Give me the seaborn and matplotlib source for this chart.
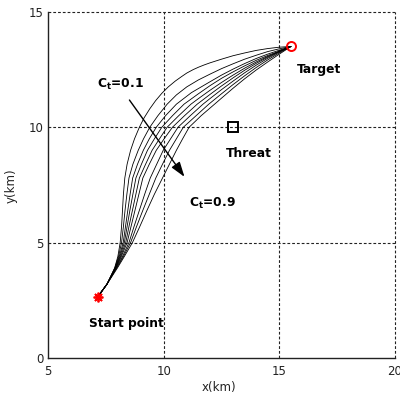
import matplotlib
matplotlib.use("Agg")
import matplotlib.pyplot as plt
import seaborn as sns
import pandas as pd

# ---- data ----
ct_labels = [0.1, 0.2, 0.3, 0.4, 0.5, 0.6, 0.7, 0.8, 0.9]

# common start of every path
start_x = [7.15, 7.55]
start_y = [2.65, 3.2]

# lower part: x positions read at these heights
low_levels_y = [3.9, 4.4, 5.0, 5.7, 6.4, 7.1, 7.8, 8.4, 9.0, 9.5, 10.0]
low_x = [
    [7.88, 8.02, 8.12, 8.18, 8.22, 8.26, 8.32, 8.42, 8.57, 8.74, 8.95],
    [7.89, 8.05, 8.18, 8.26, 8.33, 8.41, 8.50, 8.67, 8.90, 9.13, 9.40],
    [7.90, 8.08, 8.25, 8.35, 8.45, 8.55, 8.66, 8.87, 9.12, 9.38, 9.68],
    [7.91, 8.11, 8.30, 8.42, 8.54, 8.67, 8.80, 9.04, 9.30, 9.60, 9.92],
    [7.92, 8.14, 8.36, 8.50, 8.65, 8.80, 8.95, 9.22, 9.50, 9.82, 10.15],
    [7.93, 8.17, 8.42, 8.59, 8.76, 8.93, 9.10, 9.38, 9.68, 10.02, 10.38],
    [7.95, 8.22, 8.50, 8.72, 8.95, 9.18, 9.42, 9.70, 9.98, 10.30, 10.62],
    [7.97, 8.26, 8.57, 8.83, 9.10, 9.38, 9.66, 9.95, 10.25, 10.55, 10.85],
    [8.00, 8.30, 8.65, 8.97, 9.28, 9.60, 9.95, 10.25, 10.55, 10.82, 11.10],
]

# upper part: points read along each path up to the target
up_x = [
    [9.15, 9.4, 9.65, 9.92, 10.2, 10.5, 10.78, 11.0, 11.28, 11.5, 11.75, 12.0, 12.5, 13.0, 13.5, 14.0, 14.5, 15.0, 15.5],
    [9.75, 10.15, 10.55, 11.0, 11.5, 12.0, 12.5, 13.0, 13.5, 14.0, 14.5, 15.0, 15.5],
    [10.08, 10.55, 11.2, 12.0, 12.5, 13.0, 13.5, 14.0, 14.5, 15.0, 15.5],
    [10.38, 10.88, 11.5, 12.0, 12.5, 13.0, 13.5, 14.0, 14.5, 15.0, 15.5],
    [10.65, 11.18, 11.5, 12.0, 12.5, 13.0, 13.5, 14.0, 14.5, 15.0, 15.5],
    [10.9, 11.45, 12.0, 12.5, 13.0, 13.5, 14.0, 14.5, 15.0, 15.5],
    [11.15, 11.7, 12.0, 12.5, 13.0, 13.5, 14.0, 14.5, 15.0, 15.5],
    [11.4, 11.95, 12.5, 13.0, 13.5, 14.0, 14.5, 15.0, 15.5],
    [11.62, 12.2, 12.5, 13.0, 13.5, 14.0, 14.5, 15.0, 15.5],
]
up_y = [
    [10.4, 10.8, 11.15, 11.47, 11.75, 12.0, 12.2, 12.35, 12.5, 12.6, 12.7, 12.79, 12.95, 13.1, 13.22, 13.33, 13.41, 13.47, 13.5],
    [10.5, 11.0, 11.4, 11.75, 12.05, 12.3, 12.54, 12.75, 12.95, 13.12, 13.28, 13.4, 13.5],
    [10.5, 11.0, 11.5, 11.97, 12.26, 12.52, 12.76, 12.98, 13.17, 13.34, 13.5],
    [10.5, 11.0, 11.45, 11.8, 12.12, 12.4, 12.66, 12.9, 13.11, 13.3, 13.5],
    [10.5, 11.0, 11.24, 11.6, 11.94, 12.26, 12.56, 12.83, 13.07, 13.29, 13.5],
    [10.5, 11.0, 11.42, 11.79, 12.14, 12.47, 12.77, 13.04, 13.28, 13.5],
    [10.5, 11.0, 11.24, 11.63, 12.0, 12.36, 12.69, 12.99, 13.26, 13.5],
    [10.5, 11.0, 11.45, 11.85, 12.23, 12.59, 12.92, 13.22, 13.5],
    [10.5, 11.0, 11.26, 11.69, 12.1, 12.48, 12.83, 13.17, 13.5],
]

start_pt = (7.15, 2.65)
target_pt = (15.5, 13.5)
threat_pt = (13.0, 10.0)

x_ticks = [5, 10, 15, 20]
y_ticks = [0, 5, 10, 15]

# ---- build long table ----
rows = []
for i, ct in enumerate(ct_labels):
    xs = start_x + low_x[i] + up_x[i]
    ys = start_y + low_levels_y + up_y[i]
    for order, (xv, yv) in enumerate(zip(xs, ys)):
        rows.append({"ct": ct, "order": order, "x": xv, "y": yv})
df = pd.DataFrame(rows)

sns.set_theme(style="white")
plt.rcParams["font.family"] = ["DejaVu Sans"]
plt.rcParams["mathtext.fontset"] = "dejavusans"
plt.rcParams["text.color"] = "black"

fig = plt.figure(figsize=(4.0, 3.96), dpi=100)
ax = fig.add_axes([0.12, 0.096, 0.8675, 0.874])

# grid (dashed), including the top/right edges
for xv in x_ticks[1:]:
    ax.axvline(xv, color="#222222", lw=0.8, linestyle=(0, (2.5, 1.8)), zorder=1, clip_on=False)
for yv in y_ticks[1:]:
    ax.axhline(yv, color="#222222", lw=0.8, linestyle=(0, (2.5, 1.8)), zorder=1, clip_on=False)

sns.lineplot(data=df, x="x", y="y", units="ct", estimator=None, sort=False,
             color="black", lw=0.6, ax=ax, legend=False, zorder=3)

ax.plot([start_pt[0]], [start_pt[1]], marker=(8, 2, 0), color="red", ms=7, mew=1.3, zorder=5)
ax.plot([target_pt[0]], [target_pt[1]], marker="o", mfc="none", mec="red", ms=6.5, mew=1.4, zorder=5)
ax.plot([threat_pt[0]], [threat_pt[1]], marker="s", mfc="none", mec="black", ms=6.5, mew=1.4, zorder=5)

tfs = 8.8
ax.text(15.75, 12.34, "Target", fontsize=tfs, fontweight="bold", ha="left", va="baseline", color="black")
ax.text(12.7, 8.70, "Threat", fontsize=tfs, fontweight="bold", ha="left", va="baseline", color="black")
ax.text(6.79, 1.36, "Start point", fontsize=tfs, fontweight="bold", ha="left", va="baseline", color="black")
ax.text(7.1, 11.7, r"$\mathbf{C_t}$=0.1", fontsize=tfs, fontweight="bold", ha="left", va="baseline", color="black")
ax.text(11.1, 6.56, r"$\mathbf{C_t}$=0.9", fontsize=tfs, fontweight="bold", ha="left", va="baseline", color="black")

ax.annotate("", xy=(10.9, 7.85), xytext=(8.52, 11.18),
            arrowprops=dict(arrowstyle="-|>,head_length=0.75,head_width=0.25", color="black", lw=1.0,
                            shrinkA=0, shrinkB=0, mutation_scale=12), zorder=6)

ax.set_xlim(5, 20)
ax.set_ylim(0, 15)
ax.set_xticks(x_ticks)
ax.set_yticks(y_ticks)
ax.set_xticklabels([str(v) for v in x_ticks])
ax.set_yticklabels([str(v) for v in y_ticks])
ax.tick_params(axis="both", length=0, labelsize=8.5, labelcolor="#222222")
ax.tick_params(axis="x", pad=5)
ax.tick_params(axis="y", pad=3.5)
ax.set_xlabel("")
ax.set_ylabel("")

for side in ["top", "right"]:
    ax.spines[side].set_visible(False)
for side in ["left", "bottom"]:
    ax.spines[side].set_color("#222222")
    ax.spines[side].set_linewidth(1.0)
    ax.spines[side].set_zorder(7)

fig.text(219 / 400, 1 - 387.5 / 396, "x(km)", fontsize=8.5, color="#222222", ha="center", va="center")
fig.text(11 / 400, 1 - 186 / 396, "y(km)", fontsize=8.5, color="#222222", ha="center", va="center", rotation=90)

fig.savefig("out.png", dpi=100)
